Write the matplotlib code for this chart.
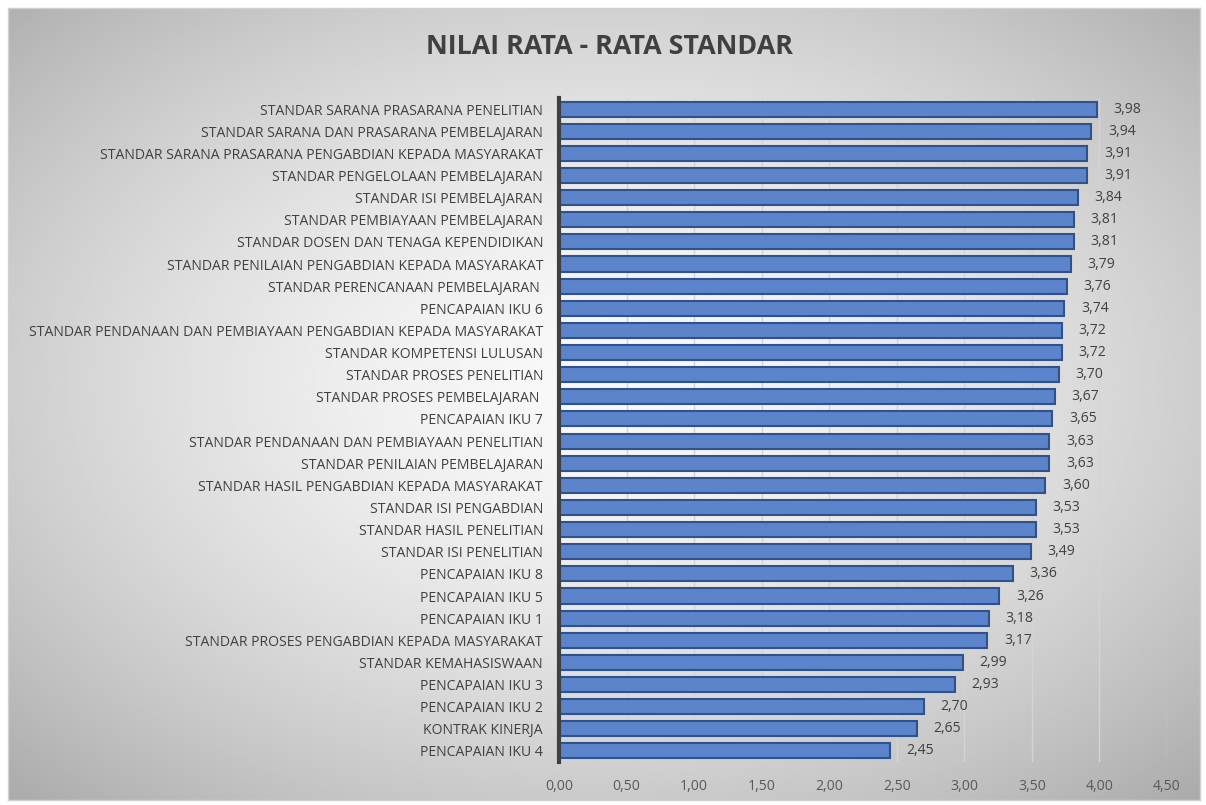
import matplotlib.pyplot as plt
import numpy as np

categories = [
    "STANDAR SARANA PRASARANA PENELITIAN",
    "STANDAR SARANA DAN PRASARANA PEMBELAJARAN",
    "STANDAR SARANA PRASARANA PENGABDIAN KEPADA MASYARAKAT",
    "STANDAR PENGELOLAAN PEMBELAJARAN",
    "STANDAR ISI PEMBELAJARAN",
    "STANDAR PEMBIAYAAN PEMBELAJARAN",
    "STANDAR DOSEN DAN TENAGA KEPENDIDIKAN",
    "STANDAR PENILAIAN PENGABDIAN KEPADA MASYARAKAT",
    "STANDAR PERENCANAAN PEMBELAJARAN ",
    "PENCAPAIAN IKU 6",
    "STANDAR PENDANAAN DAN PEMBIAYAAN PENGABDIAN KEPADA MASYARAKAT",
    "STANDAR KOMPETENSI LULUSAN",
    "STANDAR PROSES PENELITIAN",
    "STANDAR PROSES PEMBELAJARAN ",
    "PENCAPAIAN IKU 7",
    "STANDAR PENDANAAN DAN PEMBIAYAAN PENELITIAN",
    "STANDAR PENILAIAN PEMBELAJARAN",
    "STANDAR HASIL PENGABDIAN KEPADA MASYARAKAT",
    "STANDAR ISI PENGABDIAN",
    "STANDAR HASIL PENELITIAN",
    "STANDAR ISI PENELITIAN",
    "PENCAPAIAN IKU 8",
    "PENCAPAIAN IKU 5",
    "PENCAPAIAN IKU 1",
    "STANDAR PROSES PENGABDIAN KEPADA MASYARAKAT",
    "STANDAR KEMAHASISWAAN",
    "PENCAPAIAN IKU 3",
    "PENCAPAIAN IKU 2",
    "KONTRAK KINERJA",
    "PENCAPAIAN IKU 4",
]
values = [3.98, 3.94, 3.91, 3.91, 3.84, 3.81, 3.81, 3.79, 3.76, 3.74,
          3.72, 3.72, 3.70, 3.67, 3.65, 3.63, 3.63, 3.60, 3.53, 3.53,
          3.49, 3.36, 3.26, 3.18, 3.17, 2.99, 2.93, 2.70, 2.65, 2.45]
x_ticks = [0, 0.5, 1.0, 1.5, 2.0, 2.5, 3.0, 3.5, 4.0, 4.5]

plt.rcParams['font.family'] = ['Open Sans', 'DejaVu Sans']

W, H = 1206, 805
fig = plt.figure(figsize=(W / 100, H / 100), dpi=100)

# radial gradient background inside a thin border
bg = fig.add_axes([8 / W, 5 / H, 1192 / W, 792 / H])
yy, xx = np.mgrid[-1:1:300j, -1:1:450j]
r = np.sqrt((xx * 0.9) ** 2 + ((yy + 0.05) * 0.9) ** 2)
shade = 0.975 - 0.2 * np.clip(r, 0, 1.35) ** 1.6
bg.imshow(shade, cmap='gray', vmin=0, vmax=1, aspect='auto', extent=[0, 1, 0, 1])
bg.set_xticks([])
bg.set_yticks([])
for s in bg.spines.values():
    s.set_color('#d0d0d0')
    s.set_linewidth(1)

ax = fig.add_axes([559 / W, 1 - 762 / H, (1167 - 559) / W, (762 - 98) / H])
ax.patch.set_alpha(0)
ypos = np.arange(len(categories))
ax.barh(ypos, values, height=0.68, color='#5b84cb', edgecolor='#2f528f', linewidth=1.5, zorder=3)
ax.set_ylim(len(categories) - 0.5, -0.5)
ax.set_xlim(0, 4.5)
ax.set_yticks(ypos)
ax.set_yticklabels(categories, fontsize=10.1, color='#404040')
ax.set_xticks(x_ticks)
ax.set_xticklabels([f"{t:.2f}".replace('.', ',') for t in x_ticks], fontsize=10.1, color='#595959')
ax.tick_params(length=0, pad=12)
ax.tick_params(axis='y', pad=11.5)
ax.grid(axis='x', color='#d4d4d4', linewidth=1, zorder=0)
for side in ['top', 'right', 'bottom']:
    ax.spines[side].set_visible(False)
ax.spines['left'].set_color('#404040')
ax.spines['left'].set_linewidth(3)
ax.spines['left'].set_zorder(4)

for y, v in zip(ypos, values):
    ax.annotate(f"{v:.2f}".replace('.', ','), (v, y), xytext=(12, 0), textcoords='offset points',
                va='center', ha='left', fontsize=10.1, color='#404040')

fig.text(610 / W, 1 - 47 / H, "NILAI RATA - RATA STANDAR", ha='center', va='center',
         fontsize=19.4, fontweight='bold', color='#404040')

fig.savefig('out.png', dpi=100)
